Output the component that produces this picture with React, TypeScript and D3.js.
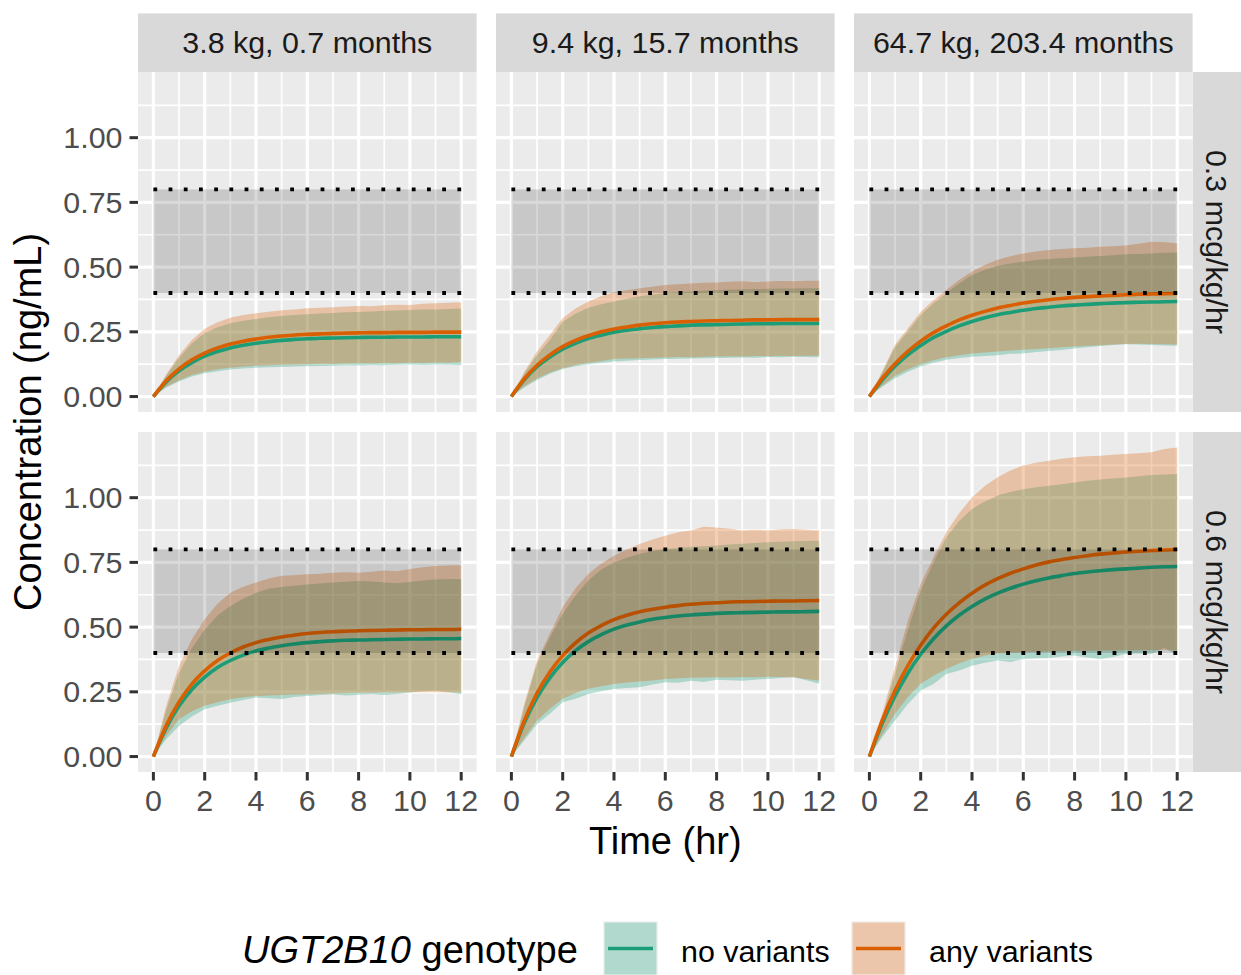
import React from "react";
import * as d3 from "d3";

// Sampling times (hr) shared by every series
const TIME = [0, 0.5, 1, 1.5, 2, 2.5, 3, 3.5, 4, 4.5, 5, 5.5, 6, 6.5, 7, 7.5, 8, 8.5, 9, 9.5, 10, 10.5, 11, 11.5, 12];

const PATIENTS = ["3.8 kg, 0.7 months", "9.4 kg, 15.7 months", "64.7 kg, 203.4 months"];
const DOSES = ["0.3 mcg/kg/hr", "0.6 mcg/kg/hr"];
const GENOTYPES = ["no variants", "any variants"];
const GENOTYPE_COLORS = ["#1B9E77", "#D95F02"];
const X_TICKS = [0, 2, 4, 6, 8, 10, 12];
const Y_TICKS = [0, 0.25, 0.5, 0.75, 1.0];
const TARGET_LOW = 0.4;
const TARGET_HIGH = 0.8;

// 0.3 mcg/kg/hr, 3.8 kg
const nvMed_d1p1 = [0, 0.056, 0.099, 0.131, 0.156, 0.174, 0.188, 0.198, 0.206, 0.212, 0.217, 0.221, 0.223, 0.225, 0.226, 0.227, 0.228, 0.229, 0.229, 0.230, 0.230, 0.230, 0.231, 0.231, 0.231];
const avMed_d1p1 = [0, 0.061, 0.107, 0.142, 0.168, 0.188, 0.203, 0.214, 0.222, 0.229, 0.234, 0.238, 0.240, 0.242, 0.244, 0.245, 0.246, 0.247, 0.247, 0.248, 0.248, 0.248, 0.249, 0.249, 0.249];
const nvLo_d1p1 = [0, 0.035, 0.058, 0.077, 0.090, 0.098, 0.104, 0.108, 0.111, 0.113, 0.114, 0.116, 0.117, 0.118, 0.119, 0.121, 0.120, 0.122, 0.121, 0.123, 0.124, 0.122, 0.124, 0.123, 0.121];
const nvHi_d1p1 = [0, 0.080, 0.150, 0.205, 0.245, 0.268, 0.283, 0.293, 0.300, 0.306, 0.311, 0.315, 0.318, 0.321, 0.323, 0.326, 0.327, 0.329, 0.331, 0.332, 0.334, 0.336, 0.336, 0.338, 0.340];
const avLo_d1p1 = [0, 0.038, 0.063, 0.083, 0.096, 0.105, 0.111, 0.116, 0.119, 0.121, 0.123, 0.124, 0.125, 0.127, 0.126, 0.128, 0.129, 0.128, 0.130, 0.129, 0.131, 0.130, 0.132, 0.131, 0.133];
const avHi_d1p1 = [0, 0.085, 0.160, 0.218, 0.262, 0.287, 0.304, 0.315, 0.322, 0.328, 0.333, 0.336, 0.341, 0.343, 0.345, 0.348, 0.350, 0.349, 0.353, 0.355, 0.354, 0.358, 0.360, 0.362, 0.364];

// 0.3 mcg/kg/hr, 9.4 kg
const nvMed_d1p2 = [0, 0.065, 0.115, 0.153, 0.183, 0.206, 0.224, 0.237, 0.248, 0.256, 0.262, 0.267, 0.270, 0.273, 0.276, 0.277, 0.278, 0.279, 0.280, 0.281, 0.281, 0.282, 0.282, 0.282, 0.282];
const avMed_d1p2 = [0, 0.068, 0.121, 0.161, 0.193, 0.217, 0.235, 0.250, 0.261, 0.269, 0.276, 0.281, 0.285, 0.288, 0.290, 0.292, 0.293, 0.294, 0.295, 0.296, 0.296, 0.297, 0.297, 0.297, 0.297];
const nvLo_d1p2 = [0, 0.035, 0.064, 0.088, 0.106, 0.117, 0.125, 0.131, 0.135, 0.138, 0.141, 0.143, 0.145, 0.146, 0.147, 0.148, 0.149, 0.150, 0.151, 0.150, 0.153, 0.152, 0.154, 0.153, 0.152];
const nvHi_d1p2 = [0, 0.088, 0.160, 0.218, 0.289, 0.320, 0.343, 0.357, 0.367, 0.378, 0.387, 0.393, 0.399, 0.403, 0.406, 0.409, 0.412, 0.413, 0.414, 0.415, 0.416, 0.417, 0.417, 0.418, 0.418];
const avLo_d1p2 = [0, 0.040, 0.070, 0.093, 0.109, 0.122, 0.131, 0.137, 0.145, 0.147, 0.148, 0.150, 0.151, 0.153, 0.152, 0.154, 0.155, 0.156, 0.155, 0.157, 0.156, 0.158, 0.157, 0.158, 0.158];
const avHi_d1p2 = [0, 0.095, 0.174, 0.238, 0.302, 0.340, 0.367, 0.387, 0.403, 0.411, 0.418, 0.424, 0.431, 0.434, 0.437, 0.440, 0.441, 0.443, 0.445, 0.442, 0.444, 0.446, 0.445, 0.447, 0.447];

// 0.3 mcg/kg/hr, 64.7 kg
const nvMed_d1p3 = [0, 0.064, 0.117, 0.161, 0.197, 0.228, 0.252, 0.273, 0.290, 0.304, 0.316, 0.325, 0.333, 0.340, 0.345, 0.350, 0.353, 0.356, 0.359, 0.361, 0.363, 0.364, 0.365, 0.366, 0.367];
const avMed_d1p3 = [0, 0.070, 0.127, 0.175, 0.214, 0.247, 0.273, 0.296, 0.314, 0.329, 0.342, 0.352, 0.361, 0.368, 0.374, 0.379, 0.383, 0.386, 0.389, 0.391, 0.393, 0.395, 0.396, 0.397, 0.398];
const nvLo_d1p3 = [0, 0.038, 0.071, 0.096, 0.116, 0.131, 0.142, 0.149, 0.154, 0.157, 0.160, 0.165, 0.166, 0.172, 0.176, 0.180, 0.186, 0.190, 0.195, 0.199, 0.202, 0.201, 0.199, 0.197, 0.196];
const nvHi_d1p3 = [0, 0.092, 0.190, 0.252, 0.315, 0.360, 0.399, 0.437, 0.470, 0.490, 0.505, 0.514, 0.521, 0.527, 0.531, 0.534, 0.537, 0.540, 0.543, 0.546, 0.550, 0.551, 0.553, 0.555, 0.556];
const avLo_d1p3 = [0, 0.042, 0.080, 0.105, 0.125, 0.140, 0.152, 0.160, 0.166, 0.170, 0.174, 0.178, 0.181, 0.184, 0.187, 0.190, 0.193, 0.196, 0.198, 0.201, 0.203, 0.204, 0.203, 0.202, 0.201];
const avHi_d1p3 = [0, 0.097, 0.200, 0.264, 0.328, 0.372, 0.412, 0.450, 0.483, 0.508, 0.528, 0.542, 0.553, 0.560, 0.566, 0.570, 0.573, 0.575, 0.579, 0.581, 0.583, 0.590, 0.598, 0.596, 0.592];

// 0.6 mcg/kg/hr, 3.8 kg
const nvMed_d2p1 = [0, 0.111, 0.195, 0.259, 0.307, 0.344, 0.371, 0.392, 0.408, 0.419, 0.428, 0.435, 0.440, 0.444, 0.447, 0.449, 0.450, 0.451, 0.452, 0.453, 0.454, 0.454, 0.455, 0.455, 0.456];
const avMed_d2p1 = [0, 0.120, 0.211, 0.280, 0.331, 0.371, 0.400, 0.423, 0.440, 0.452, 0.462, 0.469, 0.475, 0.479, 0.482, 0.484, 0.486, 0.487, 0.488, 0.489, 0.490, 0.490, 0.491, 0.491, 0.492];
const nvLo_d2p1 = [0, 0.067, 0.118, 0.155, 0.183, 0.196, 0.208, 0.218, 0.228, 0.225, 0.222, 0.230, 0.234, 0.238, 0.241, 0.236, 0.239, 0.242, 0.238, 0.242, 0.247, 0.252, 0.254, 0.248, 0.241];
const nvHi_d2p1 = [0, 0.180, 0.324, 0.418, 0.490, 0.545, 0.582, 0.610, 0.633, 0.648, 0.655, 0.660, 0.665, 0.668, 0.672, 0.675, 0.678, 0.676, 0.672, 0.669, 0.674, 0.680, 0.684, 0.686, 0.685];
const avLo_d2p1 = [0, 0.080, 0.144, 0.175, 0.196, 0.210, 0.221, 0.229, 0.234, 0.236, 0.238, 0.240, 0.241, 0.243, 0.244, 0.245, 0.246, 0.246, 0.247, 0.247, 0.248, 0.248, 0.248, 0.247, 0.247];
const avHi_d2p1 = [0, 0.196, 0.350, 0.453, 0.530, 0.590, 0.633, 0.656, 0.672, 0.688, 0.698, 0.700, 0.704, 0.706, 0.710, 0.712, 0.710, 0.714, 0.719, 0.716, 0.724, 0.731, 0.736, 0.738, 0.739];

// 0.6 mcg/kg/hr, 9.4 kg
const nvMed_d2p2 = [0, 0.129, 0.228, 0.304, 0.363, 0.409, 0.444, 0.471, 0.492, 0.508, 0.520, 0.530, 0.537, 0.543, 0.547, 0.550, 0.553, 0.555, 0.556, 0.557, 0.558, 0.559, 0.559, 0.560, 0.561];
const avMed_d2p2 = [0, 0.138, 0.245, 0.327, 0.390, 0.439, 0.477, 0.506, 0.529, 0.546, 0.559, 0.569, 0.577, 0.583, 0.588, 0.592, 0.594, 0.597, 0.598, 0.599, 0.600, 0.601, 0.601, 0.602, 0.603];
const nvLo_d2p2 = [0, 0.062, 0.126, 0.165, 0.210, 0.223, 0.242, 0.252, 0.261, 0.265, 0.268, 0.278, 0.287, 0.285, 0.293, 0.288, 0.297, 0.295, 0.293, 0.297, 0.300, 0.303, 0.306, 0.295, 0.281];
const nvHi_d2p2 = [0, 0.190, 0.358, 0.460, 0.551, 0.622, 0.680, 0.722, 0.750, 0.768, 0.782, 0.793, 0.802, 0.806, 0.810, 0.812, 0.815, 0.819, 0.822, 0.825, 0.828, 0.830, 0.832, 0.833, 0.834];
const avLo_d2p2 = [0, 0.072, 0.139, 0.185, 0.223, 0.245, 0.262, 0.272, 0.280, 0.286, 0.290, 0.294, 0.300, 0.302, 0.304, 0.305, 0.306, 0.305, 0.307, 0.306, 0.308, 0.307, 0.306, 0.300, 0.293];
const avHi_d2p2 = [0, 0.203, 0.371, 0.474, 0.577, 0.650, 0.705, 0.745, 0.776, 0.800, 0.821, 0.838, 0.853, 0.866, 0.873, 0.888, 0.885, 0.880, 0.873, 0.876, 0.873, 0.878, 0.879, 0.876, 0.873];

// 0.6 mcg/kg/hr, 64.7 kg
const nvMed_d2p3 = [0, 0.128, 0.234, 0.322, 0.395, 0.455, 0.505, 0.546, 0.580, 0.608, 0.631, 0.650, 0.666, 0.679, 0.690, 0.699, 0.707, 0.713, 0.718, 0.722, 0.725, 0.728, 0.731, 0.733, 0.734];
const avMed_d2p3 = [0, 0.140, 0.255, 0.351, 0.430, 0.496, 0.550, 0.594, 0.631, 0.662, 0.687, 0.708, 0.725, 0.740, 0.752, 0.761, 0.769, 0.776, 0.782, 0.786, 0.790, 0.793, 0.796, 0.798, 0.800];
const nvLo_d2p3 = [0, 0.075, 0.139, 0.203, 0.255, 0.280, 0.319, 0.332, 0.351, 0.362, 0.371, 0.365, 0.377, 0.380, 0.381, 0.386, 0.390, 0.383, 0.377, 0.385, 0.396, 0.398, 0.396, 0.420, 0.390];
const nvHi_d2p3 = [0, 0.150, 0.319, 0.490, 0.641, 0.750, 0.847, 0.910, 0.956, 0.985, 1.008, 1.022, 1.033, 1.040, 1.046, 1.052, 1.059, 1.065, 1.070, 1.074, 1.078, 1.083, 1.088, 1.090, 1.091];
const avLo_d2p3 = [0, 0.085, 0.165, 0.230, 0.281, 0.312, 0.338, 0.360, 0.377, 0.390, 0.398, 0.401, 0.403, 0.405, 0.406, 0.407, 0.409, 0.409, 0.410, 0.410, 0.411, 0.411, 0.412, 0.412, 0.409];
const avHi_d2p3 = [0, 0.165, 0.345, 0.525, 0.667, 0.770, 0.866, 0.940, 1.001, 1.045, 1.079, 1.105, 1.124, 1.135, 1.143, 1.150, 1.156, 1.160, 1.162, 1.166, 1.169, 1.172, 1.175, 1.188, 1.194];

type Band = { med: number[]; lo: number[]; hi: number[] };
type Panel = { row: number; col: number; series: Band[] };

const PANELS: Panel[] = [
  { row: 0, col: 0, series: [{ med: nvMed_d1p1, lo: nvLo_d1p1, hi: nvHi_d1p1 }, { med: avMed_d1p1, lo: avLo_d1p1, hi: avHi_d1p1 }] },
  { row: 0, col: 1, series: [{ med: nvMed_d1p2, lo: nvLo_d1p2, hi: nvHi_d1p2 }, { med: avMed_d1p2, lo: avLo_d1p2, hi: avHi_d1p2 }] },
  { row: 0, col: 2, series: [{ med: nvMed_d1p3, lo: nvLo_d1p3, hi: nvHi_d1p3 }, { med: avMed_d1p3, lo: avLo_d1p3, hi: avHi_d1p3 }] },
  { row: 1, col: 0, series: [{ med: nvMed_d2p1, lo: nvLo_d2p1, hi: nvHi_d2p1 }, { med: avMed_d2p1, lo: avLo_d2p1, hi: avHi_d2p1 }] },
  { row: 1, col: 1, series: [{ med: nvMed_d2p2, lo: nvLo_d2p2, hi: nvHi_d2p2 }, { med: avMed_d2p2, lo: avLo_d2p2, hi: avHi_d2p2 }] },
  { row: 1, col: 2, series: [{ med: nvMed_d2p3, lo: nvLo_d2p3, hi: nvHi_d2p3 }, { med: avMed_d2p3, lo: avLo_d2p3, hi: avHi_d2p3 }] },
];

// Layout
const W = 1241;
const H = 975;
const PANEL_W = 338.6;
const PANEL_H = 340;
const COL_GAP = 19.4;
const ROW_GAP = 20;
const LEFT = 138;
const TOP = 72;
const STRIP_H = 58.6;
const RIGHT_STRIP_W = 48.4;
const FONT = "'Liberation Sans', Arial, Helvetica, sans-serif";
const TICK_FS = 30.4;
const TITLE_FS = 38;
const TICK_LEN = 8.5;

const colX = (c: number) => LEFT + c * (PANEL_W + COL_GAP);
const rowY = (r: number) => TOP + r * (PANEL_H + ROW_GAP);

export default function App() {
  const tExt = d3.extent(TIME) as [number, number];
  const tPad = (tExt[1] - tExt[0]) * 0.05;
  const x = d3.scaleLinear().domain([tExt[0] - tPad, tExt[1] + tPad]).range([0, PANEL_W]);

  const allVals = PANELS.flatMap((p) => p.series.flatMap((s) => [...s.lo, ...s.hi, ...s.med]));
  const yMin = Math.min(0, d3.min(allVals)!);
  const yMax = d3.max(allVals)!;
  const yPad = (yMax - yMin) * 0.05;
  const y = d3.scaleLinear().domain([yMin - yPad, yMax + yPad]).range([PANEL_H, 0]);

  const xMinor = d3.range(1, 12, 2);
  const yMinor = [0.125, 0.375, 0.625, 0.875, 1.125].filter((v) => v < y.domain()[1]);

  const area = (b: Band) =>
    d3
      .area<number>()
      .x((t) => x(t))
      .y0((_, i) => y(b.lo[i]))
      .y1((_, i) => y(b.hi[i]))(TIME) as string;
  const line = (b: Band) =>
    d3
      .line<number>()
      .x((t) => x(t))
      .y((_, i) => y(b.med[i]))
      .curve(d3.curveMonotoneX)(TIME) as string;

  const grid = "#FFFFFF";
  const bottomY = rowY(1) + PANEL_H;
  const rightX = colX(2) + PANEL_W;
  const plotMidX = (LEFT + rightX) / 2;
  const plotMidY = (TOP + bottomY) / 2;

  // legend layout
  const keySize = 55;
  const keyY = 921;
  const keyX = [603, 851];
  const legendTitleX = 242;

  return (
    <svg
      width={W}
      height={H}
      style={{ position: "absolute", left: 0, top: 0, display: "block", background: "#FFFFFF" }}
      fontFamily={FONT}
    >
      <rect x={0} y={0} width={W} height={H} fill="#FFFFFF" />
      <defs>
        <clipPath id="panel-clip">
          <rect x={0} y={0} width={PANEL_W} height={PANEL_H} />
        </clipPath>
      </defs>

      {/* top strips */}
      {PATIENTS.map((label, c) => (
        <g key={label} transform={`translate(${colX(c)},${TOP - STRIP_H})`}>
          <rect width={PANEL_W} height={STRIP_H} fill="#D9D9D9" />
          <text
            x={PANEL_W / 2}
            y={STRIP_H / 2}
            dy="0.35em"
            textAnchor="middle"
            fontSize={TICK_FS}
            fill="#1A1A1A"
          >
            {label}
          </text>
        </g>
      ))}

      {/* right strips */}
      {DOSES.map((label, r) => (
        <g key={label} transform={`translate(${rightX},${rowY(r)})`}>
          <rect width={RIGHT_STRIP_W} height={PANEL_H} fill="#D9D9D9" />
          <text
            transform={`translate(${RIGHT_STRIP_W / 2},${PANEL_H / 2}) rotate(90)`}
            dy="0.35em"
            textAnchor="middle"
            fontSize={TICK_FS}
            fill="#1A1A1A"
          >
            {label}
          </text>
        </g>
      ))}

      {PANELS.map((p) => (
        <g key={`${p.row}-${p.col}`} transform={`translate(${colX(p.col)},${rowY(p.row)})`}>
          <rect width={PANEL_W} height={PANEL_H} fill="#EBEBEB" />
          {/* minor grid */}
          {xMinor.map((t) => (
            <line key={`xm${t}`} x1={x(t)} x2={x(t)} y1={0} y2={PANEL_H} stroke={grid} strokeWidth={1.7} />
          ))}
          {yMinor.map((v) => (
            <line key={`ym${v}`} x1={0} x2={PANEL_W} y1={y(v)} y2={y(v)} stroke={grid} strokeWidth={1.7} />
          ))}
          {/* major grid */}
          {X_TICKS.map((t) => (
            <line key={`xM${t}`} x1={x(t)} x2={x(t)} y1={0} y2={PANEL_H} stroke={grid} strokeWidth={3.2} />
          ))}
          {Y_TICKS.map((v) => (
            <line key={`yM${v}`} x1={0} x2={PANEL_W} y1={y(v)} y2={y(v)} stroke={grid} strokeWidth={3.2} />
          ))}

          <g clipPath="url(#panel-clip)">
            {p.series.map((s, i) => (
              <path key={`r${i}`} d={area(s)} fill={GENOTYPE_COLORS[i]} fillOpacity={0.3} />
            ))}
            {p.series.map((s, i) => (
              <path
                key={`l${i}`}
                d={line(s)}
                fill="none"
                stroke={GENOTYPE_COLORS[i]}
                strokeWidth={3.6}
                strokeLinejoin="round"
              />
            ))}
            {/* target concentration range */}
            <rect
              x={x(tExt[0])}
              width={x(tExt[1]) - x(tExt[0])}
              y={y(TARGET_HIGH)}
              height={y(TARGET_LOW) - y(TARGET_HIGH)}
              fill="#000000"
              fillOpacity={0.15}
            />
            {[TARGET_LOW, TARGET_HIGH].map((v) => (
              <line
                key={`t${v}`}
                x1={x(tExt[0])}
                x2={x(tExt[1])}
                y1={y(v)}
                y2={y(v)}
                stroke="#000000"
                strokeWidth={3.8}
                strokeDasharray="3.8 11.4"
              />
            ))}
          </g>

          {/* y axis on first column */}
          {p.col === 0 &&
            Y_TICKS.map((v) => (
              <g key={`yt${v}`}>
                <line x1={-TICK_LEN} x2={0} y1={y(v)} y2={y(v)} stroke="#333333" strokeWidth={3} />
                <text
                  x={-TICK_LEN - 7}
                  y={y(v)}
                  dy="0.35em"
                  textAnchor="end"
                  fontSize={TICK_FS}
                  fill="#4D4D4D"
                >
                  {d3.format(".2f")(v)}
                </text>
              </g>
            ))}

          {/* x axis on bottom row */}
          {p.row === 1 &&
            X_TICKS.map((t) => (
              <g key={`xt${t}`}>
                <line x1={x(t)} x2={x(t)} y1={PANEL_H} y2={PANEL_H + TICK_LEN} stroke="#333333" strokeWidth={3} />
                <text x={x(t)} y={PANEL_H + 39} textAnchor="middle" fontSize={TICK_FS} fill="#4D4D4D">
                  {t}
                </text>
              </g>
            ))}
        </g>
      ))}

      {/* axis titles */}
      <text x={plotMidX} y={854} textAnchor="middle" fontSize={TITLE_FS} fill="#000000">
        Time (hr)
      </text>
      <text
        transform={`translate(41,${plotMidY}) rotate(-90)`}
        textAnchor="middle"
        fontSize={TITLE_FS}
        fill="#000000"
      >
        Concentration (ng/mL)
      </text>

      {/* legend */}
      <text x={legendTitleX} y={963} fontSize={TITLE_FS} fill="#000000">
        <tspan fontStyle="italic">UGT2B10</tspan>
        <tspan> genotype</tspan>
      </text>
      {GENOTYPES.map((g, i) => (
        <g key={g} transform={`translate(${keyX[i]},${keyY})`}>
          <rect width={keySize} height={keySize} fill="#F2F2F2" />
          <rect x={1.5} y={1.5} width={keySize - 3} height={keySize - 3} fill={GENOTYPE_COLORS[i]} fillOpacity={0.3} />
          <line
            x1={5}
            x2={keySize - 5}
            y1={keySize / 2}
            y2={keySize / 2}
            stroke={GENOTYPE_COLORS[i]}
            strokeWidth={3.6}
          />
          <text x={keySize + 23} y={keySize / 2 + 3} dy="0.35em" fontSize={TICK_FS} fill="#000000">
            {g}
          </text>
        </g>
      ))}
    </svg>
  );
}
